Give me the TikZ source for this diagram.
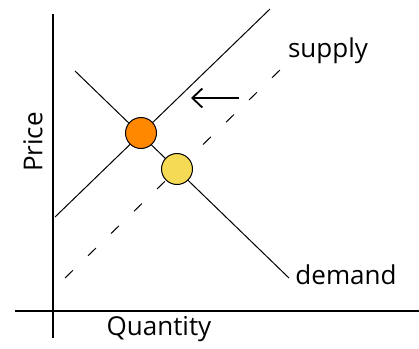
\documentclass[tikz,border=0pt]{standalone}
\usepackage{fontspec}
\setmainfont{Open Sans}
\usetikzlibrary{arrows.meta}
\definecolor{eqorange}{RGB}{255,136,0}
\definecolor{eqyellow}{RGB}{244,218,85}
\tikzset{
  axisline/.style={line width=1.4pt},
  curve/.style={line width=1pt},
  shifted/.style={line width=1pt, dash pattern=on 11pt off 21pt},
  eqpoint/.style={circle, draw, line width=1pt, minimum size=31pt, inner sep=0pt},
  lbl/.style={font=\fontsize{26}{30}\selectfont, inner sep=0pt},
}
\begin{document}
\begin{tikzpicture}[x=1pt,y=-1pt]
\useasboundingbox (0,0) rectangle (419,348);
% axes
\coordinate (ytop) at (53,14);
\coordinate (ybot) at (53,338);
\coordinate (xl) at (15,311);
\coordinate (xr) at (419,311);
\draw[axisline] (ytop) -- (ybot);
\draw[axisline] (xl) -- (xr);
% curves
\coordinate (s1a) at (55,217);
\coordinate (s1b) at (270,9);
\coordinate (s2a) at (65,278);
\coordinate (s2b) at (280,70);
\coordinate (da) at (75,71);
\coordinate (db) at (289,278);
\draw[curve] (s1a) -- (s1b);
\draw[shifted] (s2a) -- (s2b);
\draw[curve] (da) -- (db);
% shift arrow
\coordinate (arA) at (239,98);
\coordinate (arB) at (191,98);
\draw[line width=1.8pt, -{Straight Barb[length=10pt,width=19pt]}] (arA) -- (arB);
% equilibrium points
\node[eqpoint, fill=eqorange] (e1) at (141,133) {};
\node[eqpoint, fill=eqyellow] (e2) at (177,169) {};
% labels
\node[lbl] (supply) at (328,51) {supply};
\node[lbl] (demand) at (346,275) {demand};
\node[lbl] (qty) at (159,329) {Quantity};
\node[lbl, rotate=90] (price) at (33,142) {Price};
\end{tikzpicture}
\end{document}
